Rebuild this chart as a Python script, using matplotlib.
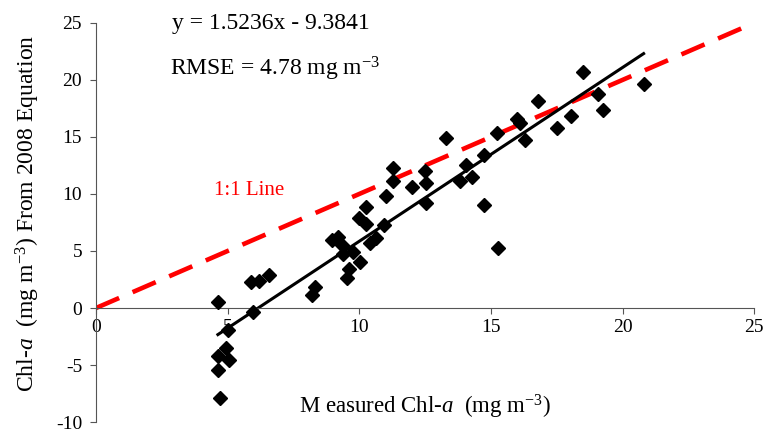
import numpy as np
import matplotlib
matplotlib.use("Agg")
import matplotlib.pyplot as plt

plt.rcParams['font.family'] = ['Liberation Serif', 'DejaVu Serif']
plt.rcParams['mathtext.fontset'] = 'custom'
plt.rcParams['mathtext.rm'] = 'Liberation Serif'
plt.rcParams['mathtext.it'] = 'Liberation Serif:italic'
plt.rcParams['axes.unicode_minus'] = False

measured = [4.63, 5.98, 5.00, 4.94, 4.65, 5.07, 4.63, 4.71, 5.88, 6.21, 6.59,
            8.20, 8.31, 9.52, 9.62, 10.02, 9.77, 9.40, 8.95, 9.20, 9.35, 10.40,
            10.65, 10.00, 10.25, 10.27, 10.95, 11.00, 11.30, 11.30, 12.00, 12.50,
            12.53, 12.53, 13.31, 13.81, 14.06, 14.28, 14.75, 14.73, 15.26, 15.23,
            16.00, 16.10, 16.30, 16.77, 17.50, 18.06, 18.50, 19.05, 19.26, 20.80]
predicted = [0.50, -0.38, -1.92, -3.50, -4.17, -4.60, -5.45, -7.90, 2.25, 2.39, 2.91,
             1.10, 1.85, 2.60, 3.40, 4.00, 4.87, 4.75, 6.00, 6.20, 5.50, 5.74,
             6.10, 7.90, 7.40, 8.90, 7.30, 9.80, 11.10, 12.25, 10.60, 12.00,
             11.00, 9.20, 14.92, 11.10, 12.53, 11.48, 13.40, 9.06, 5.30, 15.33,
             16.60, 16.20, 14.77, 18.12, 15.80, 16.87, 20.68, 18.80, 17.40, 19.67]
slope = 1.5236
intercept = -9.3841
one_to_one = [0, 25]
x_ticks = [0, 5, 10, 15, 20, 25]
y_ticks = [-10, -5, 0, 5, 10, 15, 20, 25]

fig = plt.figure(figsize=(7.68, 4.32), dpi=100)
ax = fig.add_axes([0.125, 0.023, 0.857, 0.924])

ax.plot(one_to_one, one_to_one, color='#ff0000', lw=3.3, dashes=(5.5, 3.2), zorder=1)
xr = np.array([min(measured), max(measured)])
ax.plot(xr, slope * xr + intercept, color='black', lw=2.2, zorder=2)
ax.plot(measured, predicted, 'D', color='black', ms=6.8, zorder=3)

ax.set_xlim(0, 25)
ax.set_ylim(-10, 25)
ax.set_xticks(x_ticks)
ax.set_yticks(y_ticks)
ax.spines['top'].set_visible(False)
ax.spines['right'].set_visible(False)
ax.spines['bottom'].set_position(('data', 0))
ax.spines['left'].set_color('#555555')
ax.spines['bottom'].set_color('#555555')
ax.tick_params(axis='both', direction='out', length=4, width=0.8, color='#555555',
               labelsize=14)
ax.tick_params(axis='x', pad=4)
ax.tick_params(axis='y', pad=6)

ax.text(12.5, -8.7, r'M easured Chl-$\mathit{a}$  (mg m$^{-3}$)', fontsize=16.5,
        ha='center', va='center')
fig.text(0.036, 0.505, r'Chl-$\mathit{a}$  (mg m$^{-3}$) From 2008 Equation', fontsize=17,
         rotation=90, ha='center', va='center')
ax.text(6.65, 24.95, 'y = 1.5236x - 9.3841', fontsize=17, ha='center', va='center')
ax.text(6.8, 21.0, r'RMSE = 4.78 mg m$^{-3}$', fontsize=17, ha='center', va='center')
ax.text(5.8, 10.3, '1:1 Line', fontsize=15, color='#ff0000', ha='center', va='center')

fig.savefig('out.png', dpi=100)
